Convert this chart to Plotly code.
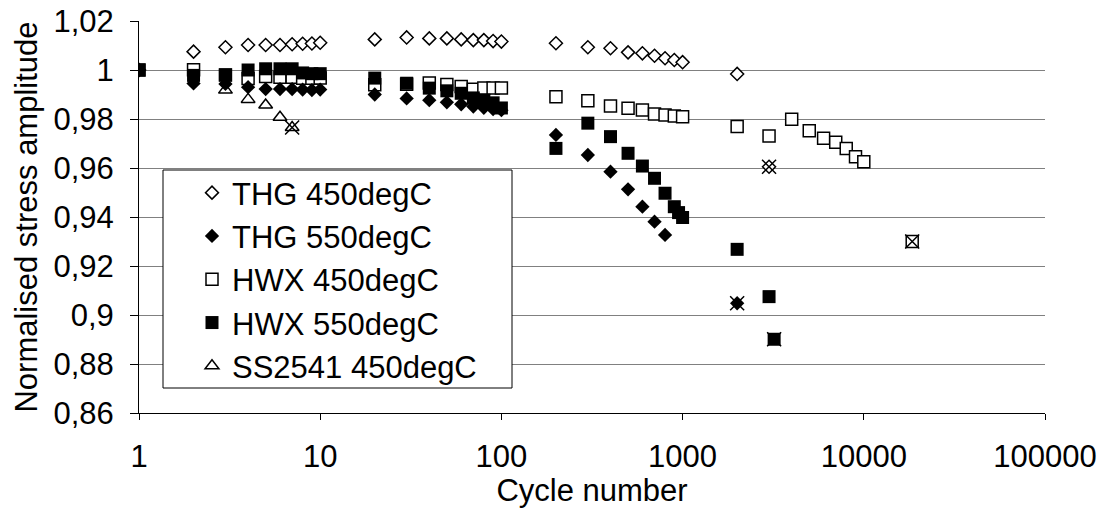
import plotly.graph_objects as go

# ---------------- data ----------------
thg450_x = [1, 2, 3, 4, 5, 6, 7, 8, 9, 10, 20, 30, 40, 50, 60, 70, 80, 90, 100,
            200, 300, 400, 500, 600, 700, 800, 900, 1000, 2000, 3000]
thg450_y = [1.0, 1.0075, 1.0093, 1.0102, 1.0102, 1.0102, 1.0105, 1.0107, 1.0108, 1.0111,
            1.0125, 1.0133, 1.0129, 1.0129, 1.0125, 1.0122, 1.0122, 1.0118, 1.0116,
            1.0109, 1.0093, 1.0089, 1.0072, 1.0068, 1.0058, 1.0048, 1.0041, 1.0032, 0.9984, 0.9605]

thg550_x = [1, 2, 3, 4, 5, 6, 7, 8, 9, 10, 20, 30, 40, 50, 60, 70, 80, 90, 100,
            200, 300, 400, 500, 600, 700, 800, 2000]
thg550_y = [1.0, 0.9945, 0.9943, 0.9930, 0.9922, 0.9922, 0.9922, 0.9920, 0.9918, 0.9920,
            0.9900, 0.9884, 0.9877, 0.9868, 0.9860, 0.9851, 0.9846, 0.9840, 0.9836,
            0.9735, 0.9653, 0.9585, 0.9513, 0.9442, 0.9381, 0.9327, 0.9048]

hwx450_x = [1, 2, 3, 4, 5, 6, 7, 8, 9, 10, 20, 30, 40, 50, 60, 70, 80, 90, 100,
            200, 300, 400, 500, 600, 700, 800, 900, 1000,
            2000, 3000, 4000, 5000, 6000, 7000, 8000, 9000, 10000, 18500]
hwx450_y = [1.0, 1.0001, 0.9980, 0.9965, 0.9973, 0.9970, 0.9970, 0.9966, 0.9966, 0.9967,
            0.9940, 0.9942, 0.9947, 0.9941, 0.9933, 0.9921, 0.9927, 0.9927, 0.9927,
            0.9891, 0.9875, 0.9853, 0.9844, 0.9837, 0.9820, 0.9816, 0.9812, 0.9809,
            0.9769, 0.9731, 0.9799, 0.9752, 0.9721, 0.9705, 0.9680, 0.9646, 0.9626, 0.9300]

hwx550_x = [1, 2, 3, 4, 5, 6, 7, 8, 9, 10, 20, 30, 40, 50, 60, 70, 80, 90, 100,
            200, 300, 400, 500, 600, 700, 800, 900, 950, 1000, 2000, 3000, 3200]
hwx550_y = [1.0, 0.9978, 0.9980, 1.0000, 1.0005, 1.0005, 1.0005, 0.9988, 0.9985, 0.9985,
            0.9967, 0.9946, 0.9926, 0.9915, 0.9905, 0.9886, 0.9876, 0.9866, 0.9845,
            0.9680, 0.9783, 0.9728, 0.9660, 0.9608, 0.9558, 0.9497, 0.9442, 0.9418, 0.9398,
            0.9268, 0.9075, 0.8901]

ss2541_x = [3, 4, 5, 6, 7]
ss2541_y = [0.9918, 0.9880, 0.9857, 0.9807, 0.9765]

x_tickvals = [1, 10, 100, 1000, 10000, 100000]
x_ticktext = ["1", "10", "100", "1000", "10000", "100000"]
y_tickvals = [0.86, 0.88, 0.90, 0.92, 0.94, 0.96, 0.98, 1.00, 1.02]
y_ticktext = ["0,86", "0,88", "0,9", "0,92", "0,94", "0,96", "0,98", "1", "1,02"]

FONT = "Liberation Sans, Arial, sans-serif"
FS = 31

fig = go.Figure()

series = [
    # name, x, y, symbol, fill, legendrank, size
    ("THG 450degC", thg450_x, thg450_y, "diamond", "white", 1, 10),
    ("HWX 450degC", hwx450_x, hwx450_y, "square", "white", 3, 12),
    ("SS2541 450degC", ss2541_x, ss2541_y, "triangle-up", "white", 5, 12),
    ("THG 550degC", thg550_x, thg550_y, "diamond", "black", 2, 11),
    ("HWX 550degC", hwx550_x, hwx550_y, "square", "black", 4, 13),
]

for name, xs, ys, sym, fill, rank, size in series:
    fig.add_trace(go.Scatter(
        x=xs, y=ys, mode="markers", name=name, legendrank=rank,
        marker=dict(symbol=sym, size=size, color=fill,
                    line=dict(color="black", width=1.5 if fill == "white" else 0)),
    ))

# failure marks: last point of each series
fail_x = [s[1][-1] for s in series]
fail_y = [s[2][-1] for s in series]
fig.add_trace(go.Scatter(
    x=fail_x, y=fail_y, mode="markers", showlegend=False,
    marker=dict(symbol="x-thin", size=14, color="black",
                line=dict(color="black", width=1.5)),
))

L, R, T, B = 139, 54, 21, 95
W, H = 1099, 508
pw, ph = W - L - R, H - T - B

def px2paper_x(px):
    return (px - L) / pw

def px2paper_y(py):
    return (H - B - py) / ph

fig.add_shape(type="rect", xref="paper", yref="paper",
              x0=px2paper_x(163), x1=px2paper_x(512),
              y0=px2paper_y(388), y1=px2paper_y(170),
              fillcolor="white", line=dict(color="black", width=1), layer="above")

fig.update_layout(
    width=W, height=H,
    margin=dict(l=L, r=R, t=T, b=B, pad=0),
    paper_bgcolor="white", plot_bgcolor="white",
    font=dict(family=FONT, size=FS, color="black"),
    showlegend=True,
    legend=dict(x=px2paper_x(192), y=px2paper_y(166), xanchor="left", yanchor="top",
                bgcolor="rgba(0,0,0,0)", borderwidth=0,
                font=dict(family=FONT, size=FS, color="black"),
                tracegroupgap=0, itemsizing="trace"),
    xaxis=dict(type="log", range=[0, 5], tickvals=x_tickvals, ticktext=x_ticktext,
               showgrid=False, zeroline=False, showline=True, linecolor="black", linewidth=1,
               ticks="outside", ticklen=6, tickcolor="black", ticklabelstandoff=10,
               automargin=False,
               tickfont=dict(family=FONT, size=FS, color="black"),
               title=dict(text="Cycle number", font=dict(family=FONT, size=FS, color="black"),
                          standoff=9)),
    yaxis=dict(range=[0.86, 1.02], tickvals=y_tickvals, ticktext=y_ticktext,
               showgrid=True, gridcolor="#808080", gridwidth=1,
               zeroline=False, showline=True, linecolor="black", linewidth=1,
               ticks="outside", ticklen=8, tickcolor="black", ticklabelstandoff=10,
               automargin=False,
               tickfont=dict(family=FONT, size=FS, color="black"),
               title=dict(text="Normalised stress amplitude",
                          font=dict(family=FONT, size=FS, color="black"), standoff=6)),
)

fig.write_html("out.html")
